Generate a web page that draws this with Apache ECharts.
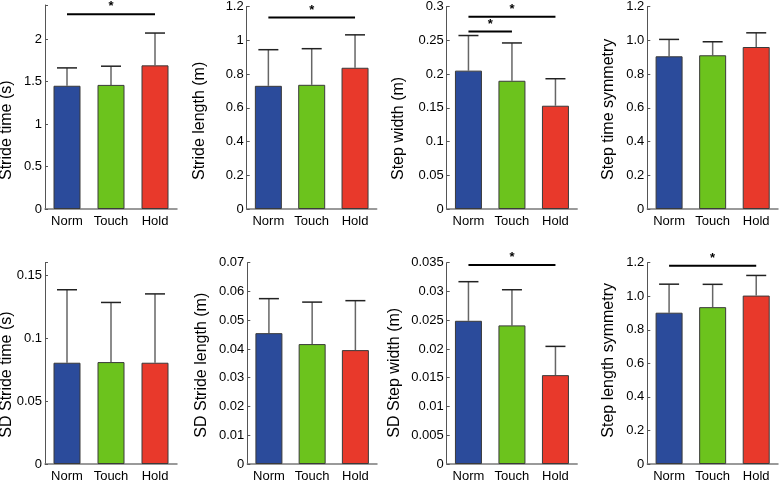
<!DOCTYPE html>
<html>
<head>
<meta charset="utf-8">
<script src="https://cdn.jsdelivr.net/npm/echarts@6/dist/echarts.min.js"></script>
<style>
html,body{margin:0;padding:0;background:#fff;}
#chart{width:779px;height:483px;}
</style>
</head>
<body>
<div id="chart"></div>
<script>
// ---------- data ----------
const categories = ['Norm', 'Touch', 'Hold'];

const strideTimeMean = [1.45, 1.46, 1.69];
const strideTimeSD = [0.21, 0.22, 0.38];
const strideLengthMean = [0.73, 0.736, 0.837];
const strideLengthSD = [0.214, 0.214, 0.195];
const stepWidthMean = [0.205, 0.19, 0.153];
const stepWidthSD = [0.052, 0.056, 0.040];
const stepTimeSymMean = [0.905, 0.911, 0.96];
const stepTimeSymSD = [0.10, 0.08, 0.084];
const sdStrideTimeMean = [0.0805, 0.081, 0.0805];
const sdStrideTimeSD = [0.058, 0.0474, 0.0547];
const sdStrideLengthMean = [0.0455, 0.0417, 0.0396];
const sdStrideLengthSD = [0.012, 0.0146, 0.0172];
const sdStepWidthMean = [0.0249, 0.0241, 0.01545];
const sdStepWidthSD = [0.0068, 0.0062, 0.0050];
const stepLengthSymMean = [0.902, 0.935, 1.004];
const stepLengthSymSD = [0.17, 0.136, 0.12];

// significance brackets: [fromIndex, toIndex, yValue]
const strideTimeSig = [[0, 2, 2.29]];
const strideLengthSig = [[0, 2, 1.135]];
const stepWidthSig = [[0, 2, 0.285], [0, 1, 0.263]];
const stepTimeSymSig = [];
const sdStrideTimeSig = [];
const sdStrideLengthSig = [];
const sdStepWidthSig = [[0, 2, 0.0346]];
const stepLengthSymSig = [[0, 2, 1.182]];

// axis ranges: [max, interval, decimals]
const strideTimeAxis = [2.4, 0.5, null];
const strideLengthAxis = [1.2, 0.2, null];
const stepWidthAxis = [0.3, 0.05, null];
const stepTimeSymAxis = [1.2, 0.2, 1];
const sdStrideTimeAxis = [0.16, 0.05, null];
const sdStrideLengthAxis = [0.07, 0.01, null];
const sdStepWidthAxis = [0.035, 0.005, null];
const stepLengthSymAxis = [1.2, 0.2, 1];

const yNames = ['Stride time (s)', 'Stride length (m)', 'Step width (m)', 'Step time symmetry',
  'SD Stride time (s)', 'SD Stride length (m)', 'SD Step width (m)', 'Step length symmetry'];

// ---------- layout ----------
const barColors = ['#2b4b9b', '#6cc31d', '#e8392b'];
const FONT = '"Liberation Sans", Arial, Helvetica, sans-serif';

const panels = [
  {mean: strideTimeMean, sd: strideTimeSD, sig: strideTimeSig, ax: strideTimeAxis, box: [45, 5, 132], nameX: 7},
  {mean: strideLengthMean, sd: strideLengthSD, sig: strideLengthSig, ax: strideLengthAxis, box: [246.7, 5, 130], nameX: 200},
  {mean: stepWidthMean, sd: stepWidthSD, sig: stepWidthSig, ax: stepWidthAxis, box: [446.7, 5, 130.5], nameX: 398.5},
  {mean: stepTimeSymMean, sd: stepTimeSymSD, sig: stepTimeSymSig, ax: stepTimeSymAxis, box: [647.3, 5, 130.7], nameX: 608.5},
  {mean: sdStrideTimeMean, sd: sdStrideTimeSD, sig: sdStrideTimeSig, ax: sdStrideTimeAxis, box: [45, 262.7, 132], nameX: 7},
  {mean: sdStrideLengthMean, sd: sdStrideLengthSD, sig: sdStrideLengthSig, ax: sdStrideLengthAxis, box: [247.3, 262.7, 129.7], nameX: 201.5},
  {mean: sdStepWidthMean, sd: sdStepWidthSD, sig: sdStepWidthSig, ax: sdStepWidthAxis, box: [446.7, 262.7, 130.5], nameX: 395},
  {mean: stepLengthSymMean, sd: stepLengthSymSD, sig: stepLengthSymSig, ax: stepLengthSymAxis, box: [647.3, 262.7, 130.7], nameX: 608.5}
];
const GRID_H = 204;

const grid = [], xAxis = [], yAxis = [], series = [], graphic = [];

panels.forEach((p, k) => {
  grid.push({left: p.box[0], top: p.box[1], width: p.box[2], height: GRID_H, containLabel: false});
  xAxis.push({
    type: 'category', gridIndex: k, data: categories,
    axisLine: {lineStyle: {color: '#7a7a7a', width: 1.5}},
    axisTick: {show: false},
    axisLabel: {color: '#000', fontSize: 13, fontFamily: FONT, margin: 6, interval: 0, hideOverlap: false}
  });
  const max = p.ax[0], interval = p.ax[1], dec = p.ax[2];
  yAxis.push({
    type: 'value', gridIndex: k, min: 0, max: max, interval: interval,
    splitLine: {show: false},
    axisLine: {show: true, lineStyle: {color: '#555', width: 1}},
    axisTick: {show: true, inside: true, length: 3, lineStyle: {color: '#555'}},
    axisLabel: {
      color: '#000', fontSize: 13, fontFamily: FONT, margin: 3, hideOverlap: false,
      formatter: function (v) {
        const r = v / interval;
        if (Math.abs(r - Math.round(r)) > 1e-6) return '';
        if (dec != null) return v === 0 ? '0' : v.toFixed(dec);
        return String(+v.toFixed(6));
      }
    }
  });
  series.push({
    type: 'bar', xAxisIndex: k, yAxisIndex: k, barWidth: 27,
    data: p.mean.map((m, i) => ({value: m, itemStyle: {color: barColors[i]}})),
    itemStyle: {borderColor: '#3a3a3a', borderWidth: 1},
    silent: true, animation: false
  });
  series.push({
    type: 'custom', xAxisIndex: k, yAxisIndex: k, silent: true, animation: false,
    encode: {x: 0, y: [1, 2]},
    data: p.mean.map((m, i) => [i, m, m + p.sd[i]]),
    renderItem: function (params, api) {
      const lo = api.coord([api.value(0), api.value(1)]);
      const hi = api.coord([api.value(0), api.value(2)]);
      const hw = 10;
      return {
        type: 'group',
        children: [
          {type: 'line', shape: {x1: lo[0], y1: lo[1], x2: hi[0], y2: hi[1]}, style: {stroke: '#666', lineWidth: 1.5}},
          {type: 'line', shape: {x1: hi[0] - hw, y1: hi[1], x2: hi[0] + hw, y2: hi[1]}, style: {stroke: '#222', lineWidth: 1.5}}
        ]
      };
    }
  });
  if (p.sig.length) {
    series.push({
      type: 'custom', xAxisIndex: k, yAxisIndex: k, silent: true, animation: false,
      encode: {x: [0, 1], y: 2},
      data: p.sig,
      renderItem: function (params, api) {
        const a = api.coord([api.value(0), api.value(2)]);
        const b = api.coord([api.value(1), api.value(2)]);
        return {
          type: 'group',
          children: [
            {type: 'line', shape: {x1: a[0], y1: a[1], x2: b[0], y2: b[1]}, style: {stroke: '#000', lineWidth: 2}},
            {type: 'text', x: (a[0] + b[0]) / 2, y: a[1] - 1,
              style: {text: '*', fill: '#000', fontSize: 13, fontWeight: 'bold', fontFamily: FONT, align: 'center', verticalAlign: 'bottom'}}
          ]
        };
      }
    });
  }
  graphic.push({
    type: 'text', x: p.nameX, y: p.box[1] + 175, rotation: Math.PI / 2,
    style: {text: yNames[k], fill: '#000', fontSize: 16, fontFamily: FONT, align: 'left', verticalAlign: 'middle'}
  });
});

const chart = echarts.init(document.getElementById('chart'), null, {renderer: 'canvas'});
chart.setOption({
  animation: false,
  backgroundColor: '#fff',
  grid: grid, xAxis: xAxis, yAxis: yAxis, series: series, graphic: graphic
});
</script>
</body>
</html>
